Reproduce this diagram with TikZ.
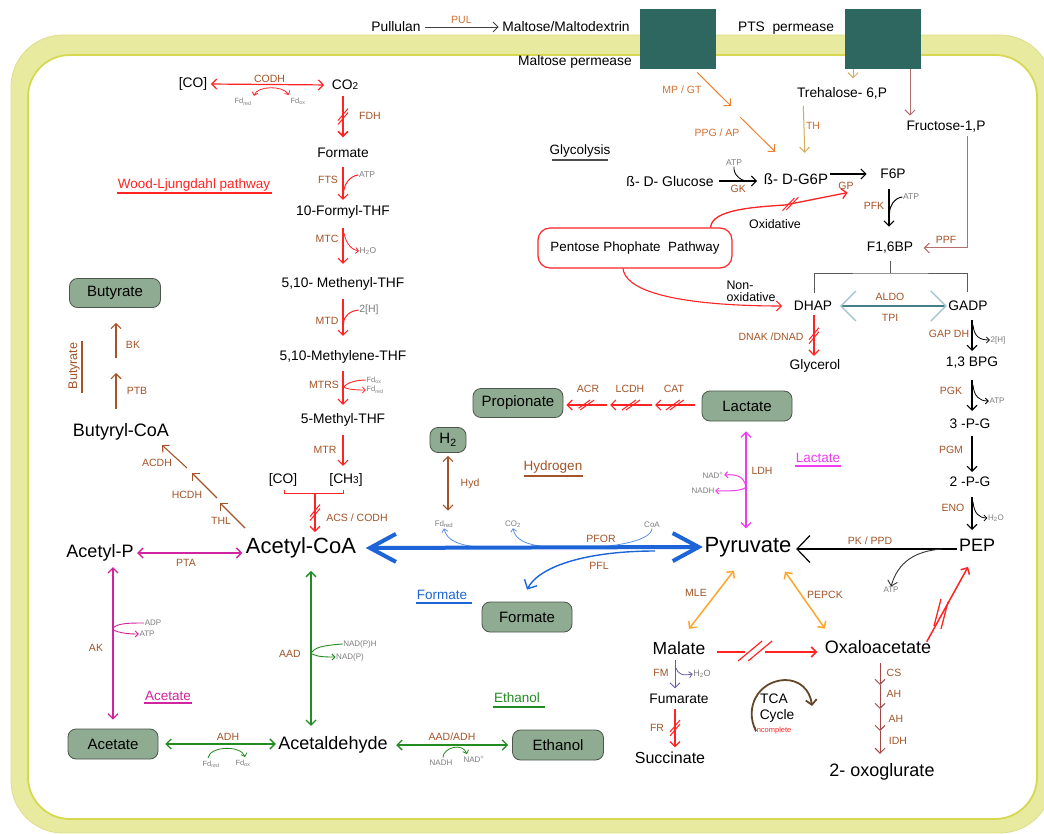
\documentclass[tikz,border=0pt]{standalone}
\usepackage{fontspec}
\setmainfont{Liberation Sans}
\usetikzlibrary{arrows.meta,decorations.markings,calc}
\definecolor{enzc}{RGB}{163,84,40}
\definecolor{enzor}{RGB}{212,112,50}
\definecolor{wlred}{RGB}{255,35,35}
\definecolor{lacm}{RGB}{238,60,238}
\definecolor{acem}{RGB}{208,36,160}
\definecolor{etg}{RGB}{34,140,34}
\definecolor{pfb}{RGB}{28,100,215}
\definecolor{pfl}{RGB}{90,145,230}
\definecolor{orng}{RGB}{255,165,45}
\definecolor{orn2}{RGB}{240,128,50}
\definecolor{tanc}{RGB}{212,172,95}
\definecolor{mauv}{RGB}{180,110,110}
\definecolor{boxf}{RGB}{143,172,146}
\definecolor{boxd}{RGB}{75,85,75}
\definecolor{tealc}{RGB}{46,102,96}
\definecolor{memf}{RGB}{232,234,160}
\definecolor{memo}{RGB}{220,222,140}
\definecolor{memd}{RGB}{214,216,80}
\definecolor{smallg}{RGB}{125,125,125}
\definecolor{aldoc}{RGB}{70,125,135}
\definecolor{aldol}{RGB}{165,198,208}
\definecolor{tcab}{RGB}{100,70,40}
\definecolor{fmp}{RGB}{100,90,175}
\definecolor{idhc}{RGB}{165,70,70}
\newcommand{\myfs}[1]{\fontsize{#1}{#1}\selectfont}
\tikzset{
  >={Straight Barb[length=5pt,width=10pt]},
  met/.style={font=\myfs{13.8}, inner sep=1.5pt},
  bmet/.style={font=\myfs{18}, inner sep=1.5pt},
  hmet/.style={font=\myfs{22}, inner sep=1.5pt},
  enz/.style={font=\myfs{10.5}, text=enzc, inner sep=1pt},
  enzo/.style={font=\myfs{10.5}, text=enzor, inner sep=1pt},
  tny/.style={font=\myfs{8}, text=smallg, inner sep=0.5pt},
  prod/.style={draw=boxd, fill=boxf, rounded corners=8pt, line width=0.8pt, minimum width=90pt, minimum height=30pt, font=\myfs{15}, inner sep=2pt},
  sect/.style={font=\myfs{13.5}, inner sep=1pt},
  ar/.style={->, line width=1.1pt},
  dar/.style={<->, line width=1.1pt},
  sar/.style={-{Straight Barb[length=3pt,width=6pt]}, line width=0.8pt},
  sln/.style={line width=0.8pt},
  brkpos/.store in=\brkpos, brkpos=0.5,
  brk/.style={postaction={decorate, decoration={markings, mark=at position \brkpos with {\draw[-, line width=1pt, #1] (-9pt,-5pt)--(5pt,5pt) (-5pt,-5pt)--(9pt,5pt);}}}},
  brkv/.style={postaction={decorate, decoration={markings, mark=at position \brkpos with {\draw[-, line width=1pt, #1] (-8pt,5pt)--(4pt,-5pt) (-4pt,5pt)--(8pt,-5pt);}}}},
  brkbig/.style={postaction={decorate, decoration={markings, mark=at position \brkpos with {\fill[white] (-10pt,-2pt) rectangle (10pt,2pt); \draw[-, line width=1.2pt, #1] (-17pt,-9pt)--(7pt,11pt) (-7pt,-9pt)--(17pt,11pt);}}}},
}
\begin{document}
\begin{tikzpicture}[x=1pt,y=-1pt]
\useasboundingbox (0,0) rectangle (1044,834);
\begin{scope}
\clip (0,0) rectangle (1044,834);
\filldraw[fill=memf, draw=memo, line width=0.8pt, rounded corners=52pt] (11,35) rectangle (1052,833);
\filldraw[fill=white, draw=memd, line width=1.8pt, rounded corners=42pt] (28,55) rectangle (1037,819);
\end{scope}

% ---------- transport ----------
\node[fill=tealc, minimum width=76pt, minimum height=60pt, inner sep=0pt, anchor=north west] (mperm) at (640,9) {};
\node[fill=tealc, minimum width=76pt, minimum height=60pt, inner sep=0pt, anchor=north west] (ptsp) at (845,9) {};
\node[met] (pull) at (396,27) {Pullulan};
\node[met] (malt) at (566,27) {Maltose/Maltodextrin};
\draw[->, line width=0.9pt, black!75, shorten <=3pt, shorten >=2pt] (pull.east) -- node[enzo, above=1.5pt] (pul) {PUL} (malt.west);
\node[met] (mpl) at (575,62) {Maltose permease};
\node[met] (ptsl) at (786,28) {PTS\ \ permease};

% ---------- glycolysis upper ----------
\node[sect] (glyl) at (580,151) {Glycolysis};
\draw[black!70, line width=1.2pt] (552,160) -- (608,160);
\node[met, font=\myfs{14}] (glu) at (670,181) {ß- D- Glucose};
\node[met, font=\myfs{15}] (g6p) at (796,179) {ß- D-G6P};
\draw[ar] ($(glu.east)+(4,0)$) -- node[enz, below=3pt] (gk) {GK} ($(glu.east -| g6p.west)+(-5,0)$);
\node[tny, font=\myfs{8.5}] (atpgk) at (734,163) {ATP};
\draw[line width=0.9pt] (atpgk.south) .. controls +(-1,8) and +(-6,0) .. (747,181);

\coordinate (mpa) at ($(mperm.south)+(19,3)$);
\coordinate (mpb) at (731,106);
\coordinate (ppa) at (740,117);
\draw[ar, orn2, line width=1pt] (mpa) -- (mpb);
\draw[ar, orn2, line width=1pt] (ppa) -- ($(g6p.north west)+(13,-20)$);
\node[enzo] (mpgt) at (682,90) {MP / GT};
\node[enzo] (ppgap) at (717,133) {PPG / AP};

\node[met] (tre) at (842,93) {Trehalose- 6,P};
\draw[ar, tanc, line width=1pt] ($(ptsp.south west)+(8,0)$) -- ($(tre.north)+(11,-7)$);
\draw[ar, tanc, line width=1pt] ($(tre.south west)+(8,5)$) -- ($(g6p.north east)+(-25,-19)$);
\node[enzo] (th) at (813,126) {TH};

\node[met] (fru) at (946,127) {Fructose-1,P};
\draw[ar, mauv, line width=1pt] ($(ptsp.south west)+(65,0)$) -- ($(fru.north)+(-36,-4)$);
\node[met] (f16) at (890,248) {F1,6BP};
\draw[ar, mauv, line width=1pt, shorten >=9pt] ($(fru.south)+(21,2)$) |- (f16.east);
\node[enz] (ppf) at (946,240) {PPF};

\node[met] (f6p) at (893,174) {F6P};
\draw[ar, shorten >=12pt] (g6p.east |- f6p) -- (f6p.west);
\draw[ar] ($(f6p.south)+(-4,8)$) -- ($(f16.north)+(-1,-14)$);
\node[enz] (pfk) at (874,206) {PFK};
\node[tny, font=\myfs{8.5}] (atppfk) at (911,197) {ATP};
\draw[line width=1pt] (atppfk.west) .. controls +(-8,1) and +(0,-7) .. (889.5,213);

% ---------- pentose phosphate ----------
\node[draw=wlred, line width=1.2pt, rounded corners=12pt, minimum width=194pt, minimum height=40pt, font=\myfs{13.4}, inner sep=2pt] (ppp) at (635,248) {Pentose Phophate\ \ Pathway};
\draw[ar, wlred, line width=1.3pt, brkpos=0.6, brk=wlred] ($(ppp.north east)+(-22,0)$) .. controls +(1,-18) and +(-30,2) .. (785,205) -- ($(f6p.south west)+(-31,12)$);
\node[enz] (gp) at (846,186) {GP};
\node[font=\myfs{12.4}, inner sep=0pt] (oxl) at (775,224) {Oxidative};
\node[met] (dhap) at (813,306) {DHAP};
\draw[ar, wlred, line width=1.1pt, shorten >=10pt] ($(ppp.south)+(-12,0)$) .. controls +(4,32) and +(-70,0) .. (dhap.west);
\node[font=\myfs{12.4}, inner sep=0pt, align=left] (noxl) at (751,291) {Non-\\oxidative};

% ---------- lower glycolysis ----------
\node[met] (gadp) at (968,306) {GADP};
\draw[sln, black!65] ($(f16.south)+(0,6)$) -- (890,273) coordinate (spl);
\draw[sln, black!65] ($(dhap.north)+(1,-7)$) |- (spl) -| ($(gadp.north)+(-1,-7)$);
\draw[aldoc, line width=1.4pt, {Straight Barb[length=15pt,width=30pt,color=aldol]}-{Straight Barb[length=15pt,width=30pt,color=aldol]}, shorten <=6pt] (dhap.east) -- (gadp.west);
\node[enz] (aldo) at (890,297) {ALDO};
\node[enz] (tpi) at (890,318) {TPI};
\node[met] (glyc) at (815,366) {Glycerol};
\draw[ar, wlred, line width=1.3pt, brkv=wlred] ($(dhap.south)+(1,3)$) -- ($(glyc.north)+(-1,-2)$);
\node[enz] (dnak) at (771,337) {DNAK /DNAD};

\node[met] (bpg) at (972,363) {1,3 BPG};
\node[met] (pg3) at (970,424) {3 -P-G};
\node[met] (pg2) at (970,482) {2 -P-G};
\node[bmet] (pep) at (977,545) {PEP};
\draw[ar] (972,320) -- (972,351);
\draw[ar] (972,380) -- (972,411);
\draw[ar] (972,436) -- (972,472);
\draw[ar] (972,497) -- (972,530);
\node[enz] (gapdh) at (949,334) {GAP DH};
\node[enz] (pgk) at (951,391) {PGK};
\node[enz] (pgm) at (951,450) {PGM};
\node[enz] (eno) at (953,508) {ENO};
\node[tny] (h2g) at (998,340) {2[H]};
\node[tny] (atpg) at (997,401) {ATP};
\node[tny] (h2oe) at (996,518) {H\textsubscript{2}O};
\draw[sar, black] (973,325) .. controls (974,336) and (979,340) .. (h2g.west);
\draw[sar, black] (973,385) .. controls (974,396) and (979,401) .. (atpg.west);
\draw[sar, black] (973,502) .. controls (974,513) and (979,518) .. (h2oe.west);

% ---------- pyruvate node ----------
\node[hmet] (pyr) at (748,547) {Pyruvate};
\node[hmet] (acoa) at (301,548) {Acetyl-CoA};
\draw[line width=1.2pt, -{Straight Barb[length=13pt,width=27pt]}] ($(pep.west)+(0,4)$) -- ($(pyr.east)+(3,2)$);
\node[enz] (pkppd) at (870,541) {PK / PPD};
\node[tny] (atppk) at (891,590) {ATP};
\draw[black!80, line width=0.9pt, -{Straight Barb[length=5pt,width=10pt]}] (942,549) .. controls (915,551) and (898,562) .. (atppk.north);

% ---------- PFOR / PFL ----------
\node[tny] (fdpf) at (444,524) {Fd\textsubscript{red}};
\node[tny] (co2pf) at (513,524) {CO\textsubscript{2}};
\node[tny] (coapf) at (652,525) {CoA};
\draw[pfl, line width=0.8pt] (coapf.south) .. controls +(-1,14) and +(30,0) .. (575,548);
\draw[pfl, sar] (575,548) .. controls (540,548) and (516,545) .. (co2pf.south);
\draw[pfl, sar] (505,548) .. controls (470,548) and (448,545) .. (fdpf.south);
\draw[pfb, line width=4pt, {Straight Barb[length=26pt,width=28pt]}-{Straight Barb[length=26pt,width=28pt]}, shorten <=8pt] (acoa.east) -- (pyr.west);
\node[enz] (pfor) at (601,539) {PFOR};
\node[enz] (pflab) at (599,566) {PFL};
\node[prod] (formb) at (527,617) {Formate};
\draw[pfb, line width=1.4pt, -{Straight Barb[length=7pt,width=14pt]}] (655,551) .. controls (590,551) and (540,565) .. ($(formb.north)+(0,-12)$);
\node[sect, text=pfb] (forml) at (442,595) {Formate};
\draw[pfb, line width=1.3pt] (416,603) -- (472,603);

% ---------- lactate / propionate ----------
\node[prod] (lacb) at (747,406) {Lactate};
\node[prod, minimum height=29pt] (propb) at (518,403) {Propionate};
\coordinate (lc1) at (652,405);
\coordinate (lc2) at (607,405);
\draw[ar, wlred, line width=1.2pt, brk=wlred] ($(lacb.west)+(-7,-1)$) -- (655,405);
\draw[ar, wlred, line width=1.2pt, brk=wlred] (lc1) -- (610,405);
\draw[ar, wlred, line width=1.2pt, brk=wlred, shorten >=3pt] (lc2) -- (propb.east |- lc2);
\node[enz] (cat) at (674,389) {CAT};
\node[enz] (lcdh) at (630,389) {LCDH};
\node[enz] (acr) at (588,389) {ACR};
\draw[dar, lacm, line width=1.3pt, <->] ($(lacb.south)+(-1,10)$) -- ($(pyr.north)+(-2,-7)$);
\node[enz] (ldh) at (762,471) {LDH};
\node[tny] (nadp) at (713,475) {NAD\textsuperscript{+}};
\node[tny] (nadh) at (703,491) {NADH};
\draw[sar, lacm, line width=1pt] (746,487) .. controls (744,476) and (736,474) .. (nadp.east);
\draw[sar, lacm, line width=1pt] (746,487) .. controls (743,491) and (730,491) .. (nadh.east);
\node[sect, text=lacm] (lacl) at (818,458) {Lactate};
\draw[lacm, line width=1.3pt] (795,466) -- (841,466);

% ---------- hydrogen ----------
\node[prod, minimum width=36pt, minimum height=25pt] (h2b) at (448,440) {H\textsubscript{2}};
\draw[enzc, dar] (h2b.south) ++(0,3) -- ($(fdpf.north)+(4,-9)$);
\node[enz] (hyd) at (470,484) {Hyd};
\node[sect, text=enzc] (hydl) at (553,467) {Hydrogen};
\draw[enzc, line width=1.3pt] (524,476) -- (583,476);

% ---------- Wood-Ljungdahl ----------
\node[met] (wco) at (193,84) {[CO]};
\node[met] (co2) at (345,85) {CO{\myfs{10}2}};
\draw[dar, wlred, line width=1.2pt, shorten <=2pt, shorten >=6pt] (wco.east) -- node[enz, above=0.5pt] (codh) {CODH} (co2.west);
\node[tny, font=\myfs{7.5}] (fdr1) at (243,102) {Fd\textsubscript{red}};
\node[tny, font=\myfs{7.5}] (fdo1) at (298,101) {Fd\textsubscript{ox}};
\draw[wlred, line width=0.8pt, {Straight Barb[length=3pt,width=6pt]}-{Straight Barb[length=3pt,width=6pt]}] ($(fdr1.north)+(11,-2)$) .. controls +(3,-10) and +(-6,-10) .. ($(fdo1.north west)+(-1,-2)$);
\node[sect, text=wlred] (wlp) at (194,185) {Wood-Ljungdahl pathway};
\draw[wlred, line width=1.4pt] (117,193) -- (272,193);

\node[met] (fmt) at (343,153) {Formate};
\draw[ar, wlred, line width=1.6pt, brkv=wlred] ($(co2.south)+(-2,4)$) -- ($(fmt.north)+(0,-9)$);
\node[enz] (fdh) at (370,116) {FDH};
\node[met] (tenf) at (343,212) {10-Formyl-THF};
\draw[ar, wlred] ($(fmt.south)+(0,7)$) -- ($(tenf.north)+(0,-4)$);
\node[enz] (fts) at (328,180) {FTS};
\node[tny, font=\myfs{8.5}] (atpf) at (367,175) {ATP};
\draw[wlred, line width=1pt] (atpf.west) .. controls +(-9,1) and +(0,-9) .. (343.5,194);
\node[met] (menyl) at (343,284) {5,10- Methenyl-THF};
\draw[ar, wlred] ($(tenf.south)+(0,8)$) -- ($(menyl.north)+(0,-12)$);
\node[enz] (mtc) at (327,239) {MTC};
\node[tny, font=\myfs{8.5}] (h2om) at (368,251) {H\textsubscript{2}O};
\draw[sar, wlred] (344,233) .. controls (346,244) and (352,250) .. (h2om.west);
\node[met] (mlene) at (343,357) {5,10-Methylene-THF};
\draw[ar, wlred] ($(menyl.south)+(0,7)$) -- ($(mlene.north)+(0,-13)$);
\node[enz] (mtd) at (327,321) {MTD};
\node[tny, font=\myfs{10.5}] (h2mt) at (369,310) {2[H]};
\draw[wlred, line width=1pt] (h2mt.west) .. controls +(-9,1) and +(0,-8) .. (343.5,324);
\node[met] (methyl) at (343,420) {5-Methyl-THF};
\draw[ar, wlred] ($(mlene.south)+(0,6)$) -- ($(methyl.north)+(0,-7)$);
\node[enz] (mtrs) at (324,385) {MTRS};
\node[tny, font=\myfs{7.5}] (fdo2) at (374,380) {Fd\textsubscript{ox}};
\node[tny, font=\myfs{7.5}] (fdr2) at (375,390) {Fd\textsubscript{red}};
\draw[wlred, line width=0.9pt] (fdo2.west) .. controls +(-10,0) and +(2,-4) .. (344,387);
\draw[sar, wlred] (344,387) .. controls +(3,3) and +(-5,0) .. (fdr2.west);
\node[met] (bco) at (283,480) {[CO]};
\node[met] (bch) at (346,480) {[CH{\myfs{10}3}]};
\draw[ar, wlred] ($(methyl.south)+(0,7)$) -- ($(bch.north)+(-3,-6)$);
\node[enz] (mtr) at (325,450) {MTR};
\draw[wlred, line width=0.9pt] ($(bco.south)+(1,2)$) |- (343,493) coordinate (brr) -- ($(bch.south)+(-3,2)$);
\coordinate (brkt) at (315,493);
\draw[ar, wlred, brkv=wlred] (brkt) -- ($(acoa.north)+(14,-4)$);
\node[enz] (acs) at (357,518) {ACS / CODH};

% ---------- butyrate ----------
\node[prod, minimum width=91pt, minimum height=29pt] (butb) at (115,293) {Butyrate};
\node[bmet] (bcoa) at (121,432) {Butyryl-CoA};
\draw[ar, enzc] ($(bcoa.north)+(-5,-13)$) -- (116,373);
\draw[ar, enzc] (116,358) -- ($(butb.south)+(1,15)$);
\node[enz] (bk) at (133,345) {BK};
\node[enz] (ptb) at (137,391) {PTB};
\node[sect, text=enzc, rotate=90, font=\myfs{12.5}] (butl) at (74,366) {Butyrate};
\draw[enzc, line width=1.3pt] (82,341) -- (82,393);
\draw[ar, enzc] (245,528) -- (220,503);
\draw[ar, enzc] (217,498) -- (192,473);
\draw[ar, enzc] (187,468) -- ($(bcoa.south)+(41,3)$);
\node[enz] (acdh) at (157,463) {ACDH};
\node[enz] (hcdh) at (187,495) {HCDH};
\node[enz] (thl) at (221,521) {THL};

% ---------- acetate ----------
\node[bmet] (acp) at (100,553) {Acetyl-P};
\draw[dar, acem, line width=1.3pt, shorten <=2pt, shorten >=2pt] (acp.east) -- (acp.east -| acoa.west);
\node[enz] (pta) at (186,563) {PTA};
\node[prod] (acb) at (113,744) {Acetate};
\draw[dar, acem, line width=1.3pt] ($(acp.south)+(13,4)$) -- ($(acb.north)+(0,-9)$);
\node[enz] (ak) at (96,648) {AK};
\node[tny] (adp) at (153,623) {ADP};
\node[tny] (atpak) at (147,634) {ATP};
\draw[acem, line width=0.9pt] (113,628) .. controls (118,623) and (130,623) .. (adp.west);
\draw[sar, acem, line width=0.9pt] (113,630) .. controls (120,633) and (128,634) .. (atpak.west);
\node[sect, text=acem] (acl) at (168,696) {Acetate};
\draw[acem, line width=1.3pt] (144,703) -- (192,703);

% ---------- ethanol ----------
\node[bmet] (acald) at (333,745) {Acetaldehyde};
\draw[dar, etg, line width=1.3pt, shorten <=7pt, shorten >=1pt] (acb.east) -- (acb.east -| acald.west);
\node[enz] (adh) at (228,737) {ADH};
\node[tny, font=\myfs{7.5}] (fdr3) at (211,764) {Fd\textsubscript{red}};
\node[tny, font=\myfs{7.5}] (fdo3) at (243,763) {Fd\textsubscript{ox}};
\draw[sar, etg] ($(fdr3.north)+(-3,-2)$) .. controls +(2,-12) and +(-4,-12) .. ($(fdo3.north)+(2,-2)$);
\draw[dar, etg, line width=1.3pt] ($(acoa.south)+(10,11)$) -- ($(acald.north)+(-22,-9)$);
\node[enz] (aad) at (290,654) {AAD};
\node[tny] (nadph) at (360,644) {NAD(P)H};
\node[tny] (nadpp) at (350,657) {NAD(P)};
\draw[etg, line width=0.9pt] (312,652) .. controls (316,646) and (330,645) .. (nadph.west);
\draw[sar, etg, line width=0.9pt] (312,654) .. controls (318,657) and (326,657) .. (nadpp.west);
\node[prod, minimum width=91pt] (ethb) at (558,745) {Ethanol};
\draw[dar, etg, line width=1.3pt, shorten <=7pt, shorten >=4pt] (acald.east) -- (ethb.west);
\node[enz] (aadadh) at (452,737) {AAD/ADH};
\node[tny] (nadh2) at (441,763) {NADH};
\node[tny] (nadp2) at (474,759) {NAD\textsuperscript{+}};
\draw[sar, etg] ($(nadh2.north)+(2,-2)$) .. controls +(0,-10) and +(-4,-12) .. ($(nadp2.north west)+(4,-1)$);
\node[sect, text=etg] (ethl) at (517,698) {Ethanol};
\draw[etg, line width=1.3pt] (493,707) -- (545,707);

% ---------- TCA branch ----------
\node[bmet, font=\myfs{17.5}] (mal) at (679,648) {Malate};
\node[bmet] (oxa) at (878,647) {Oxaloacetate};
\draw[dar, orng, line width=1.5pt] ($(mal.north)+(10,-11)$) -- ($(pyr.south)+(-14,12)$);
\node[enz] (mle) at (696,593) {MLE};
\draw[dar, orng, line width=1.5pt] ($(pyr.south)+(37,13)$) -- ($(oxa.north)+(-53,-10)$);
\node[enz] (pepck) at (825,595) {PEPCK};
\draw[ar, wlred, line width=1.5pt, brkpos=0.38, brkbig=wlred] ($(mal.east)+(10,4)$) -- ($(oxa.west)+(-6,5)$);
\draw[ar, wlred, line width=1.5pt] ($(oxa.north east)+(-6,3)$) -- ($(pep.south)+(-9,14)$);
\draw[wlred, line width=1.3pt] (934,626) -- (941,599) (941,629) -- (948,602);
\node[met] (fum) at (679,699) {Fumarate};
\draw[ar, fmp, line width=1pt] ($(mal.south)+(-4,4)$) -- ($(fum.north)+(-4,-4)$);
\node[enz] (fm) at (661,673) {FM};
\node[tny, font=\myfs{9}] (h2ofm) at (702,674) {H\textsubscript{2}O};
\draw[sar, fmp] (676,668) .. controls (678,674) and (682,676) .. (h2ofm.west);
\node[bmet, font=\myfs{16}] (succ) at (670,758) {Succinate};
\draw[ar, wlred, line width=1.2pt, brkv=wlred] ($(fum.south)+(-4,3)$) -- ($(succ.north)+(5,-3)$);
\node[enz] (fr) at (657,728) {FR};
\node[met] (tca) at (774,699) {TCA};
\node[met] (cyc) at (777,716) {Cycle};
\node[font=\myfs{7.5}, text=wlred, inner sep=0pt] (inc) at (773,731) {Incomplete};
\draw[tcab, line width=1.8pt, -{Straight Barb[length=5pt,width=11pt]}] (756,731) .. controls (744,708) and (758,681) .. (785,680) .. controls (800,680) and (810,690) .. (812,706);
\node[bmet] (oxg) at (882,772) {2- oxoglurate};
\draw[idhc, ar, line width=1pt] ($(oxa.south)+(2,8)$) -- (880,685) coordinate (cs1);
\draw[idhc, ar, line width=1pt] (cs1) -- (880,709) coordinate (cs2);
\draw[idhc, ar, line width=1pt] (cs2) -- (880,731) coordinate (cs3);
\draw[idhc, ar, line width=1pt] (cs3) -- ($(oxg.north)+(-2,-8)$);
\node[enz] (cs) at (894,673) {CS};
\node[enz] (ah1) at (894,694) {AH};
\node[enz] (ah2) at (896,719) {AH};
\node[enz] (idh) at (898,741) {IDH};
\end{tikzpicture}
\end{document}
